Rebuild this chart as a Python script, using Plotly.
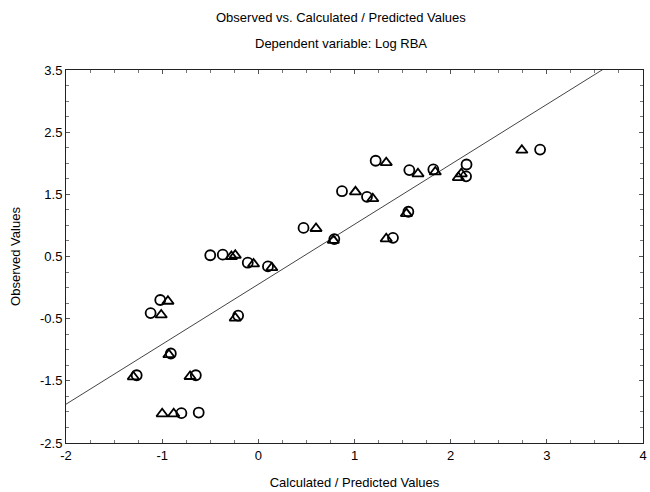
import plotly.graph_objects as go

# Data
circle_x = [-0.50, -0.37, -0.11, -1.02, -1.12, -0.91, -0.21, -1.265, -0.65, -0.80, -0.62,
            1.22, 0.87, 1.13, 0.47, 0.79, 1.40, 0.10, 1.57, 1.82, 2.165, 2.16, 2.93, 1.56]
circle_y = [0.52, 0.53, 0.40, -0.20, -0.41, -1.06, -0.45, -1.41, -1.41, -2.02, -2.01,
            2.04, 1.55, 1.46, 0.96, 0.78, 0.80, 0.34, 1.89, 1.90, 1.98, 1.79, 2.22, 1.22]
tri_x = [-0.28, -0.24, -0.05, -0.94, -1.01, -0.93, -0.24, -1.30, -0.71, -1.00, -0.88,
         1.33, 1.01, 1.19, 0.60, 0.78, 1.33, 0.14, 1.66, 1.84, 2.08, 2.11, 2.74, 1.54]
tri_y = [0.50, 0.52, 0.38, -0.22, -0.44, -1.08, -0.49, -1.435, -1.43, -2.03, -2.03,
         2.01, 1.54, 1.43, 0.95, 0.76, 0.785, 0.32, 1.83, 1.86, 1.77, 1.83, 2.21, 1.19]
fit_intercept = 0.053
fit_slope = 0.9645
x_range = [-2, 4]
y_range = [-2.5, 3.5]
x_ticks = [-2, -1, 0, 1, 2, 3, 4]
y_ticks = [-2.5, -1.5, -0.5, 0.5, 1.5, 2.5, 3.5]

FONT = "Liberation Sans Narrow, Arial Narrow, Liberation Sans, Arial, sans-serif"

fig = go.Figure()
fig.add_trace(go.Scatter(
    x=x_range, y=[fit_intercept + fit_slope * v for v in x_range],
    mode="lines", line=dict(color="#444444", width=1), hoverinfo="skip",
))
fig.add_trace(go.Scatter(
    x=circle_x, y=circle_y, mode="markers",
    marker=dict(symbol="circle-open", size=10, color="black", line=dict(width=1.8, color="black")),
))
fig.add_trace(go.Scatter(
    x=tri_x, y=tri_y, mode="markers",
    marker=dict(symbol="triangle-up-open", size=10, color="black", line=dict(width=1.8, color="black")),
))

axis_common = dict(
    showgrid=False, zeroline=False, showline=True, linecolor="#222222", linewidth=1,
    mirror="ticks", ticks="inside", ticklen=4, tickcolor="#555555", tickwidth=1,
    tickfont=dict(family=FONT, size=13, color="black"),
    minor=dict(ticks="inside", ticklen=3, tickcolor="#777777", dtick=0.25),
    automargin=False, ticklabeloverflow="allow",
)

fig.update_xaxes(range=x_range, tickvals=x_ticks, ticktext=[str(v) for v in x_ticks],
                 title=dict(text="Calculated / Predicted Values", font=dict(family=FONT, size=13, color="black"), standoff=16),
                 **axis_common)
fig.update_yaxes(range=y_range, tickvals=y_ticks, ticktext=[f"{v:.1f}" for v in y_ticks],
                 title=dict(text="Observed Values", font=dict(family=FONT, size=13, color="black"), standoff=16),
                 **axis_common)

fig.update_layout(
    width=650, height=492,
    margin=dict(l=66, r=7, t=70, b=49),
    paper_bgcolor="white", plot_bgcolor="white",
    showlegend=False,
    annotations=[
        dict(text="Observed vs. Calculated / Predicted Values", xref="paper", yref="paper",
             x=0.477, y=1, yshift=53, showarrow=False, yanchor="middle",
             font=dict(family=FONT, size=13, color="black")),
        dict(text="Dependent variable: Log RBA", xref="paper", yref="paper",
             x=0.477, y=1, yshift=27, showarrow=False, yanchor="middle",
             font=dict(family=FONT, size=13, color="black")),
    ],
)

fig.write_html("out.html", config={"displayModeBar": False},
               post_script="document.body.style.margin='0';document.body.style.overflow='hidden';")
